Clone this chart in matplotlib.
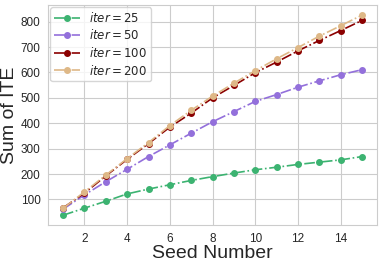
import matplotlib
matplotlib.use("Agg")
from matplotlib import pyplot as plt
import seaborn as sns

seeds = list(range(1, 16))
ite_25 = [38, 66, 93, 122, 141, 158, 175, 190, 204, 217, 227, 238, 247, 256, 269]
ite_50 = [62, 118, 170, 219, 269, 315, 361, 406, 446, 486, 513, 542, 567, 591, 611]
ite_100 = [67, 125, 193, 258, 320, 385, 440, 500, 549, 599, 641, 685, 726, 765, 805]
ite_200 = [65, 130, 196, 261, 324, 391, 451, 507, 558, 607, 654, 698, 743, 784, 826]

sns.set_style("whitegrid")
plt.rcParams["font.family"] = ["Liberation Sans", "DejaVu Sans"]

fig, ax = plt.subplots(figsize=(3.82, 2.65), dpi=100)
ax.plot(seeds, ite_25, "-.", marker="o", ms=4, lw=1.2, color="mediumseagreen", label="$iter=25$")
ax.plot(seeds, ite_50, "-.", marker="o", ms=4, lw=1.2, color="mediumpurple", label="$iter=50$")
ax.plot(seeds, ite_100, "-.", marker="o", ms=4, lw=1.2, color="darkred", label="$iter=100$")
ax.plot(seeds, ite_200, "-.", marker="o", ms=4, lw=1.2, color="burlywood", label="$iter=200$")

ax.set_xticks([2, 4, 6, 8, 10, 12, 14])
ax.set_yticks([100, 200, 300, 400, 500, 600, 700, 800])
ax.tick_params(labelsize=8.5, pad=2)
ax.set_xlabel("Seed Number", fontsize=14, labelpad=0)
ax.set_ylabel("Sum of ITE", fontsize=14, labelpad=2)
ax.legend(loc="upper left", fontsize=8.5, borderaxespad=0.2, handlelength=2.2,
          labelspacing=0.3, borderpad=0.3)

plt.subplots_adjust(left=0.126, right=0.987, top=0.981, bottom=0.15)
plt.savefig("out.png", dpi=100)
